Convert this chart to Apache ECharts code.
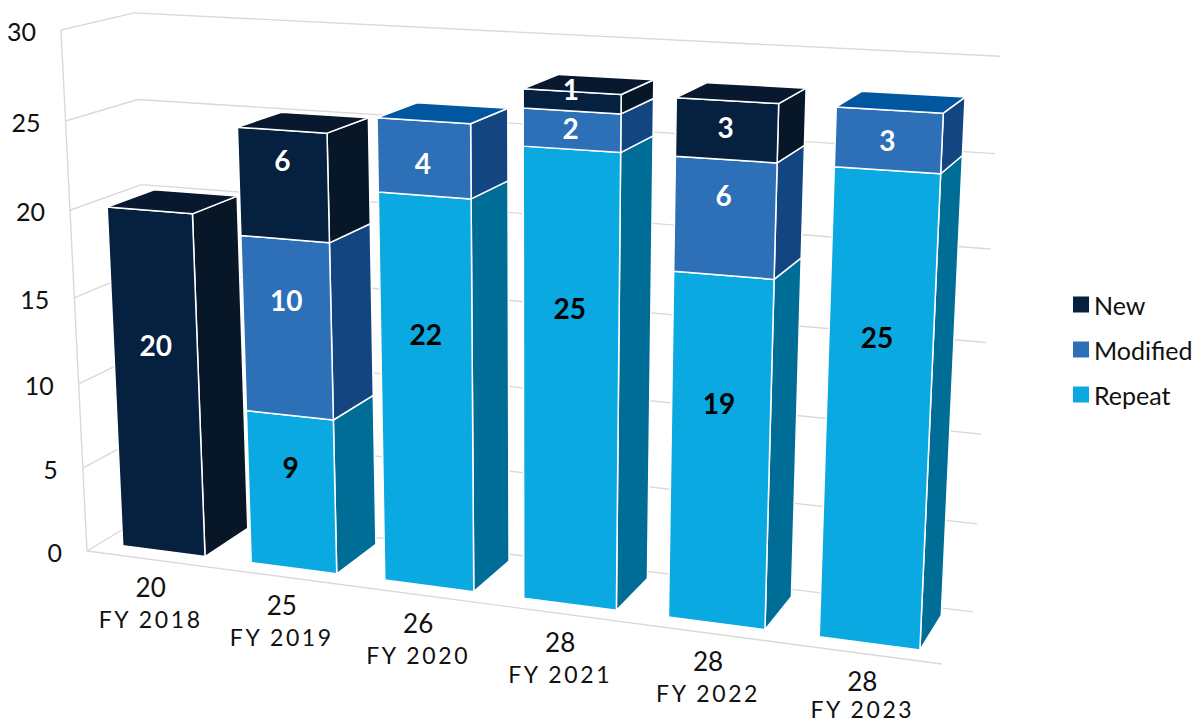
<!DOCTYPE html>
<html>
<head>
<meta charset="utf-8">
<title>Stacked 3D columns</title>
<script src="https://cdn.jsdelivr.net/npm/echarts@6/dist/echarts.min.js"></script>
<style>
  html, body { margin: 0; padding: 0; background: #fff; }
  #main { width: 1204px; height: 724px; }
  /* the FY labels are the only 23px text, zrender has no letter spacing of its own */
  #main text[style*="23px"] { letter-spacing: 2.6px; }
</style>
</head>
<body>
<div id="main"></div>
<script>
// chart data
const categories = ['FY 2018', 'FY 2019', 'FY 2020', 'FY 2021', 'FY 2022', 'FY 2023'];
const totals = [20, 25, 26, 28, 28, 28];
const repeatValues = [0, 9, 22, 25, 19, 25];
const modifiedValues = [0, 10, 4, 2, 6, 3];
const newValues = [20, 6, 0, 1, 3, 0];
const valueTicks = [0, 5, 10, 15, 20, 25, 30];

// px lift of each bar label above the middle of its front face
const repeatLift = [0, 25, 61, 74, 50, 76];
const modifiedLift = [0, 28, -5, 2, 23, 0];
const newLift = [39, 25, 0, 12, 3, 0];

const FONT = 'Lato, "Open Sans", sans-serif';
const GRID_COLOR = '#d9d9d9';
const BAR_FILL = 0.645;   // bar width inside its category band
const DEPTH_FRONT = 0.19;
const DEPTH_BACK = 0.86;

// box corners on screen: origin and the three unit points of the plot box
const O = [87, 551], X = [942, 664], Y = [61, 30], Z = [155, 510];
const CX = -0.115, CY = -0.055, CZ = 0.05;

function project(x, y, z) {
  let w = 1 + CX * x + CY * y + CZ * z;
  return [0, 1].map((k) => {
    let a = X[k] * (1 + CX) - O[k];
    let b = Y[k] * (1 + CY) - O[k];
    let c = Z[k] * (1 + CZ) - O[k];
    return (O[k] + a * x + b * y + c * z) / w;
  });
}

// pixel of the hidden grid -> unit square of the plot box
function toUnit(api, params, cat, value) {
  let p = api.coord([cat, value]);
  let cs = params.coordSys;
  return [(p[0] - cs.x) / cs.width, (cs.y + cs.height - p[1]) / cs.height];
}

function face(points, fill) {
  return {
    type: 'polygon',
    shape: { points: points },
    style: { fill: fill, stroke: '#fff', lineWidth: 1.5, lineJoin: 'round' }
  };
}

function line(a, b) {
  return {
    type: 'line',
    shape: { x1: a[0], y1: a[1], x2: b[0], y2: b[1] },
    style: { stroke: GRID_COLOR, lineWidth: 1.4 }
  };
}

function label(text, x, y, font, fill, align) {
  return {
    type: 'text',
    z2: 10,
    style: { text: text, x: x, y: y, font: font, fill: fill, align: align || 'center', verticalAlign: 'middle' }
  };
}

// one stacked segment of a series
function renderSegment(colors, labelFill, lifts) {
  return function (params, api) {
    let i = api.value(0), start = api.value(1), end = api.value(2), isTop = api.value(3);
    if (end <= start) return { type: 'group', children: [] };

    let half = api.size([1, 0])[0] / params.coordSys.width * BAR_FILL / 2;
    let lo = toUnit(api, params, i, start);
    let hi = toUnit(api, params, i, end);
    let l = lo[0] - half, r = lo[0] + half, y0 = lo[1], y1 = hi[1];

    let children = [
      face([project(r, y0, DEPTH_FRONT), project(r, y0, DEPTH_BACK), project(r, y1, DEPTH_BACK), project(r, y1, DEPTH_FRONT)], colors.side),
      face([project(l, y0, DEPTH_FRONT), project(r, y0, DEPTH_FRONT), project(r, y1, DEPTH_FRONT), project(l, y1, DEPTH_FRONT)], colors.front)
    ];
    if (isTop) {
      children.push(face([project(l, y1, DEPTH_FRONT), project(r, y1, DEPTH_FRONT), project(r, y1, DEPTH_BACK), project(l, y1, DEPTH_BACK)], colors.top));
    }

    let mid = project(lo[0], (y0 + y1) / 2, DEPTH_FRONT);
    children.push(label(String(end - start), mid[0] - 1, mid[1] - lifts[i], 'bold 28px ' + FONT, labelFill));
    return { type: 'group', children: children };
  };
}

// walls and floor, one data row per value tick
function renderWall(params, api) {
  let tick = api.value(0);
  let y = toUnit(api, params, 0, tick)[1];
  let front = project(0, y, 0), back = project(0, y, 1), right = project(1, y, 1);
  let children = [line(front, back), line(back, right)];
  if (tick === 0) {
    children.push(line(front, project(1, 0, 0)));
    children.push(line(front, project(0, 1, 0)));
  }
  children.push(label(String(tick), front[0] - 25, front[1] + 1, '25px ' + FONT, '#111', 'right'));
  return { type: 'group', children: children };
}

// total and year under each column
function renderCategory(params, api) {
  let i = api.value(0);
  let unit = toUnit(api, params, i, 0);
  let p = project(unit[0], 0, 0);
  return {
    type: 'group',
    children: [
      label(String(totals[i]), p[0], p[1] + 28, '26px ' + FONT, '#111'),
      // last label sits at the bottom edge of the page
      label(categories[i], p[0], Math.min(p[1] + 60, 709), '23px ' + FONT, '#111')
    ]
  };
}

// stack the three series, the highest one with a value gets the lid
function stacked(values, below, above) {
  return categories.map((c, i) => {
    let start = below.reduce((sum, arr) => sum + arr[i], 0);
    let isTop = above.every((arr) => arr[i] === 0) ? 1 : 0;
    return [i, start, start + values[i], isTop];
  });
}

let chart = echarts.init(document.getElementById('main'), null, { renderer: 'svg' });

chart.setOption({
  animation: false,
  backgroundColor: '#fff',
  legend: {
    data: ['New', 'Modified', 'Repeat'],
    orient: 'vertical',
    left: 1068,
    top: 287,
    icon: 'rect',
    itemWidth: 16,
    itemHeight: 16,
    itemGap: 20,
    selectedMode: false,
    textStyle: { fontFamily: FONT, fontSize: 25, color: '#111' }
  },
  // not shown, the scales behind the projection
  grid: { left: 100, right: 300, top: 100, bottom: 100 },
  xAxis: { type: 'category', data: categories, show: false },
  yAxis: { type: 'value', min: 0, max: 30, interval: 5, show: false },
  series: [
    {
      name: 'Wall',
      type: 'custom',
      silent: true,
      renderItem: renderWall,
      data: valueTicks.map((t) => [t])
    },
    {
      name: 'Category',
      type: 'custom',
      silent: true,
      renderItem: renderCategory,
      data: categories.map((c, i) => [i])
    },
    {
      name: 'Repeat',
      type: 'custom',
      itemStyle: { color: '#0aa9e2' },
      renderItem: renderSegment({ front: '#0aa9e2', side: '#006d96', top: '#0088bb' }, '#000', repeatLift),
      data: stacked(repeatValues, [], [modifiedValues, newValues])
    },
    {
      name: 'Modified',
      type: 'custom',
      itemStyle: { color: '#2e70b8' },
      renderItem: renderSegment({ front: '#2e70b8', side: '#134681', top: '#00579f' }, '#fff', modifiedLift),
      data: stacked(modifiedValues, [repeatValues], [newValues])
    },
    {
      name: 'New',
      type: 'custom',
      itemStyle: { color: '#06203f' },
      renderItem: renderSegment({ front: '#06203f', side: '#081728', top: '#07182f' }, '#fff', newLift),
      data: stacked(newValues, [repeatValues, modifiedValues], [])
    }
  ]
});
</script>
</body>
</html>
